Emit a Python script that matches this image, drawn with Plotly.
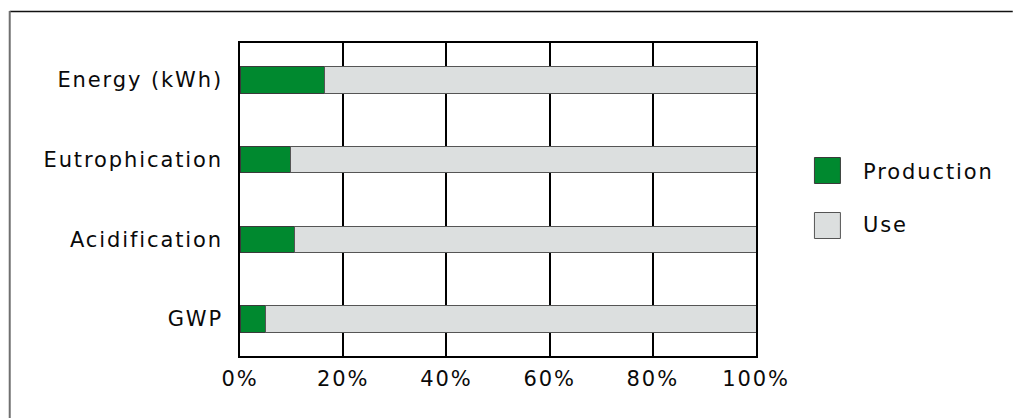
import plotly.graph_objects as go

categories = ["GWP", "Acidification", "Eutrophication", "Energy (kWh)"]
production = [4.9, 10.6, 9.8, 16.4]
use = [100 - v for v in production]
series_names = ["Production", "Use"]
x_ticks = [0, 20, 40, 60, 80, 100]
x_tick_labels = ["0%", "20%", "40%", "60%", "80%", "100%"]

GREEN = "#00892f"
GREY = "#dcdfdf"
FONT = "DejaVu Sans"
FS = 21
TXT = "#0a0a0a"

W, H = 1013, 418
L, R, T, B = 239.5, 756, 43, 356


def px(x):
    return (x - L) / (R - L)


def py(y):
    return (B - y) / (B - T)


fig = go.Figure()
fig.add_trace(go.Bar(y=categories, x=production, orientation="h", name=series_names[0],
                     marker=dict(color=GREEN, line=dict(color="#3a3a3a", width=1)),
                     width=0.33, showlegend=False))
fig.add_trace(go.Bar(y=categories, x=use, orientation="h", name=series_names[1],
                     marker=dict(color=GREY, line=dict(color="#555555", width=1)),
                     width=0.33, showlegend=False))

shapes = [
    # outer frame
    dict(type="line", xref="paper", yref="paper", x0=px(9), x1=px(1013), y0=py(11.5), y1=py(11.5),
         line=dict(color="#111111", width=1.5)),
    dict(type="line", xref="paper", yref="paper", x0=px(9), x1=px(9), y0=py(11), y1=py(418),
         line=dict(color="#707070", width=2)),
    # legend swatches
    dict(type="rect", xref="paper", yref="paper", x0=px(814.5), x1=px(840.5), y0=py(157.5), y1=py(183.5),
         fillcolor=GREEN, line=dict(color="#3a3a3a", width=1)),
    dict(type="rect", xref="paper", yref="paper", x0=px(814.5), x1=px(840.5), y0=py(212.5), y1=py(238.5),
         fillcolor=GREY, line=dict(color="#555555", width=1)),
]

annotations = [
    dict(xref="paper", yref="paper", x=px(861), y=py(172), text=series_names[0], showarrow=False,
         xanchor="left", yanchor="middle", align="left",
         font=dict(family=FONT, size=FS, color=TXT)),
    dict(xref="paper", yref="paper", x=px(861), y=py(225), text=series_names[1], showarrow=False,
         xanchor="left", yanchor="middle", align="left",
         font=dict(family=FONT, size=FS, color=TXT)),
]

fig.update_layout(
    width=W, height=H,
    barmode="stack",
    margin=dict(l=L, r=W - R, t=T, b=H - B, pad=0),
    paper_bgcolor="white", plot_bgcolor="white",
    font=dict(family=FONT, size=FS, color=TXT),
    shapes=shapes, annotations=annotations,
    showlegend=False,
)
fig.update_xaxes(range=[0, 100], tickvals=x_ticks, ticktext=x_tick_labels,
                 showgrid=True, gridcolor="#000000", gridwidth=1.5,
                 showline=True, linecolor="#000000", linewidth=1.5, mirror=True,
                 zeroline=False, ticks="", ticklabelstandoff=3, fixedrange=True)
fig.update_yaxes(categoryorder="array", categoryarray=categories, range=[-0.464, 3.463],
                 showgrid=False, showline=True, linecolor="#000000", linewidth=1.5, mirror=True,
                 zeroline=False, ticks="", ticklabelstandoff=11, fixedrange=True)

post = ("document.body.style.margin='0';"
        "var s=document.createElement('style');"
        "s.innerHTML='.main-svg text{letter-spacing:1.9px !important;}';"
        "document.head.appendChild(s);")
fig.write_html("out.html", config={"displayModeBar": False}, post_script=post)
